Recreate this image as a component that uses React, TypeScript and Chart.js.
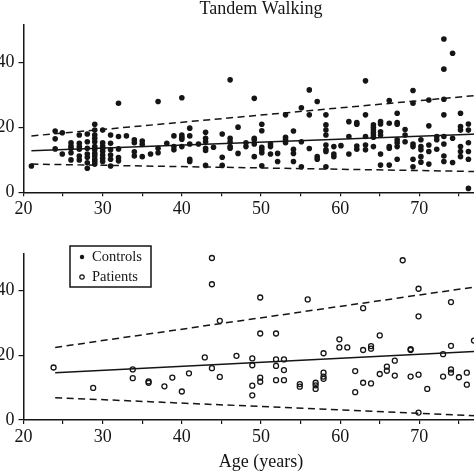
import React, { useEffect, useRef } from "react";
import { Chart, registerables } from "chart.js";

Chart.register(...registerables);

const FONT = "'Liberation Serif', 'Times New Roman', Times, serif";
const INK = "#151515";

// ---- Data ----
const titleText = "Tandem Walking";
const xAxisTitle = "Age (years)";
const xTickValues = [20, 25, 30, 35, 40, 45, 50, 55, 60, 65, 70, 75, 80];
const yTickValues = [0, 20, 40];

const controlsAge = [
  21.0,
  24.0, 24.0, 24.0,
  24.9, 24.9,
  26.0, 26.0, 26.0, 26.0, 26.0,
  27.05, 27.05, 27.05, 27.05, 27.05, 27.05,
  28.06, 28.06, 28.06, 28.06, 28.06, 28.06, 28.06,
  29.0, 29.0, 29.0, 29.0, 29.0, 29.0, 29.0, 29.0, 29.0, 29.0, 29.0, 29.0,
  30.0, 30.0, 30.0, 30.0, 30.0, 30.0, 30.0, 30.0,
  31.0, 31.0, 31.0, 31.0, 31.0, 31.0,
  32.0, 32.0, 32.0, 32.0, 32.0,
  33.0,
  34.0, 34.0, 34.0, 34.0,
  35.0, 35.0, 35.0,
  36.05,
  37.0, 37.0, 37.0,
  38.1,
  39.0, 39.0, 39.0,
  40.0, 40.0, 40.0, 40.0, 40.0,
  41.0, 41.0, 41.0, 41.0, 41.0,
  42.1,
  43.0, 43.0, 43.0, 43.0, 43.0, 43.0,
  44.0,
  45.1, 45.1, 45.1,
  46.1, 46.1, 46.1, 46.1, 46.1,
  47.1, 47.1,
  48.1, 48.1,
  49.15, 49.15, 49.15, 49.15, 49.15,
  50.1, 50.1, 50.1, 50.1, 50.1, 50.1,
  51.2, 51.2, 51.2,
  52.1, 52.1,
  53.1, 53.1, 53.1, 53.1,
  54.1, 54.1, 54.1, 54.1,
  55.1, 55.1, 55.1,
  56.1, 56.1, 56.1,
  57.1, 57.1, 57.1,
  58.2, 58.2, 58.2, 58.2, 58.2, 58.2, 58.2, 58.2,
  59.2, 59.2, 59.2,
  60.1,
  61.1, 61.1, 61.1,
  62.1, 62.1, 62.1, 62.1,
  63.2, 63.2, 63.2, 63.2, 63.2,
  64.2, 64.2, 64.2, 64.2, 64.2, 64.2, 64.2,
  65.1, 65.1, 65.1, 65.1, 65.1, 65.1,
  66.2, 66.2, 66.2, 66.2, 66.2,
  67.2, 67.2, 67.2, 67.2, 67.2, 67.2, 67.2,
  68.2, 68.2, 68.2,
  69.2, 69.2, 69.2, 69.2, 69.2, 69.2,
  70.2, 70.2, 70.2, 70.2, 70.2,
  71.2, 71.2, 71.2, 71.2, 71.2,
  72.2, 72.2, 72.2,
  73.1, 73.1, 73.1, 73.1, 73.1, 73.1, 73.1, 73.1,
  74.2, 74.2, 74.2,
  75.2, 75.2, 75.2, 75.2, 75.2, 75.2,
  76.2, 76.2, 76.2, 76.2, 76.2, 76.2,
];

const controlsScore = [
  8.1,
  18.9, 16.5, 13.4,
  18.4, 11.8,
  15.3, 14.3, 13.6, 12.2, 10.0,
  17.7, 15.1, 14.1, 13.3, 11.2, 10.0,
  18.0, 15.6, 13.6, 11.8, 10.8, 9.1, 7.4,
  21.0, 19.2, 17.7, 16.7, 15.6, 14.1, 13.1, 12.0, 11.2, 10.2, 9.5, 8.7,
  19.2, 15.3, 14.3, 13.6, 12.7, 11.5, 10.5, 9.5,
  17.7, 15.1, 13.1, 11.5, 10.2, 8.1,
  27.5, 17.2, 13.4, 10.7, 9.7,
  17.4,
  16.2, 15.3, 12.5, 11.2,
  15.8, 14.8, 11.0,
  11.8,
  28.0, 13.6, 12.2,
  15.1,
  17.4, 14.1, 13.1,
  29.2, 17.7, 17.0, 16.4, 14.1,
  19.8, 17.4, 14.9, 10.2, 9.5,
  14.9,
  18.5, 16.7, 15.6, 13.6, 12.9, 8.3,
  13.9,
  18.0, 10.8, 8.3,
  34.7, 16.7, 15.6, 14.1, 13.6,
  20.1, 12.0,
  15.3, 14.1,
  29.0, 16.7, 16.2, 14.9, 11.0,
  21.0, 19.0, 13.9, 13.1, 12.2, 8.2,
  14.9, 14.1, 11.8,
  12.0, 9.5,
  23.9, 17.0, 16.2, 15.3,
  18.9, 13.3, 12.0, 9.5,
  26.1, 15.6, 7.9,
  31.6, 23.9, 13.5,
  28.0, 11.0, 10.2,
  23.9, 20.8, 19.2, 17.7, 14.6, 13.1, 12.6, 7.9,
  14.1, 11.8, 11.0,
  14.4,
  21.8, 17.2, 11.8,
  21.5, 21.0, 14.3, 13.3,
  34.4, 23.9, 17.2, 14.6, 13.1,
  20.8, 20.0, 19.2, 18.4, 17.7, 17.0, 14.1,
  21.8, 21.1, 18.7, 17.7, 11.8, 8.4,
  28.3, 21.3, 14.1, 13.6, 8.4,
  24.4, 21.5, 21.0, 16.2, 15.3, 14.1, 10.2,
  19.4, 17.7, 15.6,
  31.4, 27.5, 14.9, 14.1, 10.2, 7.9,
  16.2, 14.1, 13.1, 11.0, 9.3,
  28.5, 20.5, 14.6, 12.6, 8.7,
  17.2, 16.2, 13.3,
  47.3, 38.0, 28.7, 23.9, 17.2, 14.9, 11.2, 9.5,
  42.9, 16.7, 9.2,
  24.4, 20.3, 19.2, 14.1, 12.6, 11.0,
  21.1, 19.2, 15.3, 12.6, 10.2, 1.2,
];

const patientsAge = [
  23.8, 28.8, 33.8, 33.8, 35.8, 35.8, 37.8, 38.8, 40.0, 40.9, 42.9,
  43.8, 43.8, 43.8, 44.8, 44.8, 46.9,
  48.9, 48.9, 48.9, 48.9,
  49.9, 49.9, 49.9, 49.9,
  51.9, 51.9, 51.9, 51.9,
  52.9, 52.9, 52.9,
  54.9, 54.9,
  55.9,
  56.9, 56.9, 56.9,
  57.9, 57.9, 57.9, 57.9,
  59.9, 59.9,
  60.9,
  61.9, 61.9,
  62.9, 62.9, 62.9,
  63.9, 63.9, 63.9,
  65.0, 65.0,
  65.9, 65.9,
  66.9, 66.9,
  67.9,
  68.9, 68.9, 68.9,
  69.9, 69.9, 69.9, 69.9,
  71.0,
  73.0, 73.0,
  74.0, 74.0, 74.0, 74.0,
  75.0,
  76.0, 76.0,
  76.9,
];

const patientsScore = [
  16.2, 9.9, 15.6, 12.9, 11.9, 11.5, 10.4, 13.1, 8.8, 14.4, 19.3,
  50.0, 41.9, 16.0, 30.6, 13.3, 19.8,
  19.0, 16.9, 10.6, 7.6,
  37.8, 26.7, 13.1, 11.8,
  26.7, 18.7, 16.7, 12.3,
  18.7, 15.4, 12.3,
  11.1, 10.3,
  37.2,
  11.5, 10.7, 9.6,
  20.6, 14.6, 13.4, 12.7,
  24.9, 22.4,
  22.4,
  15.1, 8.6,
  34.5, 21.6, 11.5,
  22.8, 22.0, 11.3,
  26.1, 14.2,
  16.5, 15.2,
  18.3, 13.7,
  49.3,
  21.9, 21.6, 13.4,
  40.5, 32.0, 14.0, 2.3,
  9.6,
  20.3, 13.4,
  36.4, 22.9, 15.6, 14.6,
  13.2,
  14.6, 10.9,
  24.5,
];

// Regression line and prediction band end points
const controlsFitAge = [21, 80];
const controlsFitMean = [12.8, 18.2];
const controlsFitUpper = [17.4, 30.5];
const controlsFitLower = [8.7, 6.3];

const patientsFitAge = [24, 80];
const patientsFitMean = [14.6, 21.5];
const patientsFitUpper = [22.4, 42.1];
const patientsFitLower = [6.9, 1.0];

// ---- Helpers ----
const toPoints = (xs: number[], ys: number[]) => xs.map((x, i) => ({ x, y: ys[i] }));

const fitLine = (xs: number[], ys: number[], dashed: boolean) => ({
  label: "",
  data: toPoints(xs, ys),
  showLine: true,
  borderColor: INK,
  borderWidth: 1.5,
  borderDash: dashed ? [7, 4.5] : [],
  pointRadius: 0,
  pointHoverRadius: 0,
  fill: false,
  tension: 0,
});

const tickFont = { family: FONT, size: 18 };

const xScale = (height: number, withTitle: boolean) => ({
  type: "linear",
  min: 20,
  max: 80,
  afterFit: (s: any) => {
    s.height = height;
  },
  afterBuildTicks: (s: any) => {
    s.ticks = xTickValues.map((v) => ({ value: v }));
  },
  ticks: {
    autoSkip: false,
    maxRotation: 0,
    minRotation: 0,
    padding: 2,
    color: INK,
    font: tickFont,
    callback: (v: any) => (Number(v) % 10 === 0 ? String(v) : ""),
  },
  grid: { drawOnChartArea: false, drawTicks: true, tickLength: 4, color: INK, lineWidth: 1.2 },
  border: { display: true, color: INK, width: 1.5 },
  title: {
    display: withTitle,
    text: xAxisTitle,
    color: INK,
    font: { family: FONT, size: 18 },
    padding: { top: 0, bottom: 0.5 },
  },
});

const yScale = (max: number) => ({
  type: "linear",
  min: 0,
  max,
  afterFit: (s: any) => {
    s.width = 53.5;
  },
  afterBuildTicks: (s: any) => {
    s.ticks = yTickValues.map((v) => ({ value: v }));
  },
  ticks: { padding: 4, color: INK, font: tickFont },
  grid: { drawOnChartArea: false, drawTicks: true, tickLength: 5, color: INK, lineWidth: 1.2 },
  border: { display: true, color: INK, width: 1.5 },
});

const insetLegend = {
  id: "insetLegend",
  afterDraw(chart: any) {
    const { ctx, chartArea } = chart;
    const items = chart.data.datasets.filter((d: any) => d.legendMarker);
    const x0 = chartArea.left + 46.5;
    const y0 = chartArea.top - 8.1;
    const w = 81;
    const h = 41;
    ctx.save();
    ctx.fillStyle = "#ffffff";
    ctx.fillRect(x0, y0, w, h);
    ctx.strokeStyle = INK;
    ctx.lineWidth = 1.5;
    ctx.strokeRect(x0, y0, w, h);
    ctx.font = `14.5px ${FONT}`;
    ctx.textBaseline = "middle";
    ctx.textAlign = "left";
    items.forEach((d: any, i: number) => {
      const cy = y0 + 11 + i * 20;
      const mx = x0 + 12;
      ctx.beginPath();
      ctx.arc(mx, cy, 2.2, 0, Math.PI * 2);
      if (d.legendMarker === "filled") {
        ctx.fillStyle = INK;
        ctx.fill();
      } else {
        ctx.lineWidth = 1.2;
        ctx.strokeStyle = INK;
        ctx.stroke();
      }
      ctx.fillStyle = INK;
      ctx.fillText(d.label, x0 + 22, cy);
    });
    ctx.restore();
  },
};

export default function App() {
  const topRef = useRef<HTMLCanvasElement>(null);
  const bottomRef = useRef<HTMLCanvasElement>(null);

  useEffect(() => {
    const top = new Chart(topRef.current as HTMLCanvasElement, {
      type: "scatter",
      data: {
        datasets: [
          {
            label: "Controls",
            data: toPoints(controlsAge, controlsScore),
            pointRadius: 2.8,
            pointHoverRadius: 2.8,
            pointBackgroundColor: INK,
            pointBorderWidth: 0,
            showLine: false,
          } as any,
          fitLine(controlsFitAge, controlsFitMean, false),
          fitLine(controlsFitAge, controlsFitUpper, true),
          fitLine(controlsFitAge, controlsFitLower, true),
        ],
      },
      options: {
        responsive: false,
        animation: false,
        devicePixelRatio: 1,
        layout: { autoPadding: false, padding: { left: 0, right: 53.5, top: 0, bottom: 0 } },
        plugins: {
          legend: { display: false },
          tooltip: { enabled: false },
          title: {
            display: true,
            fullSize: false,
            text: titleText,
            color: INK,
            font: { family: FONT, size: 18, weight: "normal", lineHeight: 1.2 },
            padding: { top: 0, bottom: 5.5 },
          },
        },
        scales: {
          x: xScale(39.7, false),
          y: yScale(51.6),
        },
      } as any,
    });

    const bottom = new Chart(bottomRef.current as HTMLCanvasElement, {
      type: "scatter",
      data: {
        datasets: [
          {
            label: "Controls",
            data: [],
            legendMarker: "filled",
            pointRadius: 2.8,
            pointBackgroundColor: INK,
          } as any,
          {
            label: "Patients",
            data: toPoints(patientsAge, patientsScore),
            legendMarker: "open",
            pointRadius: 2.5,
            pointHoverRadius: 2.5,
            pointBackgroundColor: "rgba(255,255,255,0)",
            pointBorderColor: INK,
            pointBorderWidth: 1.3,
            showLine: false,
          } as any,
          fitLine(patientsFitAge, patientsFitMean, false),
          fitLine(patientsFitAge, patientsFitUpper, true),
          fitLine(patientsFitAge, patientsFitLower, true),
        ],
      },
      options: {
        responsive: false,
        animation: false,
        devicePixelRatio: 1,
        layout: { autoPadding: false, padding: { left: 0, right: 53.5, top: 24.1, bottom: 0 } },
        plugins: {
          legend: { display: false },
          tooltip: { enabled: false },
        },
        scales: {
          x: xScale(54, true),
          y: yScale(51.2),
        },
      } as any,
      plugins: [insetLegend],
    });

    return () => {
      top.destroy();
      bottom.destroy();
    };
  }, []);

  return (
    <div
      style={{
        position: "fixed",
        left: 0,
        top: 0,
        width: 474,
        height: 474,
        overflow: "hidden",
        background: "#ffffff",
      }}
    >
      <canvas
        ref={topRef}
        width={582}
        height={234}
        style={{ position: "absolute", left: -30, top: -2, width: 582, height: 234 }}
      />
      <canvas
        ref={bottomRef}
        width={582}
        height={244}
        style={{ position: "absolute", left: -30, top: 230, width: 582, height: 244 }}
      />
    </div>
  );
}
